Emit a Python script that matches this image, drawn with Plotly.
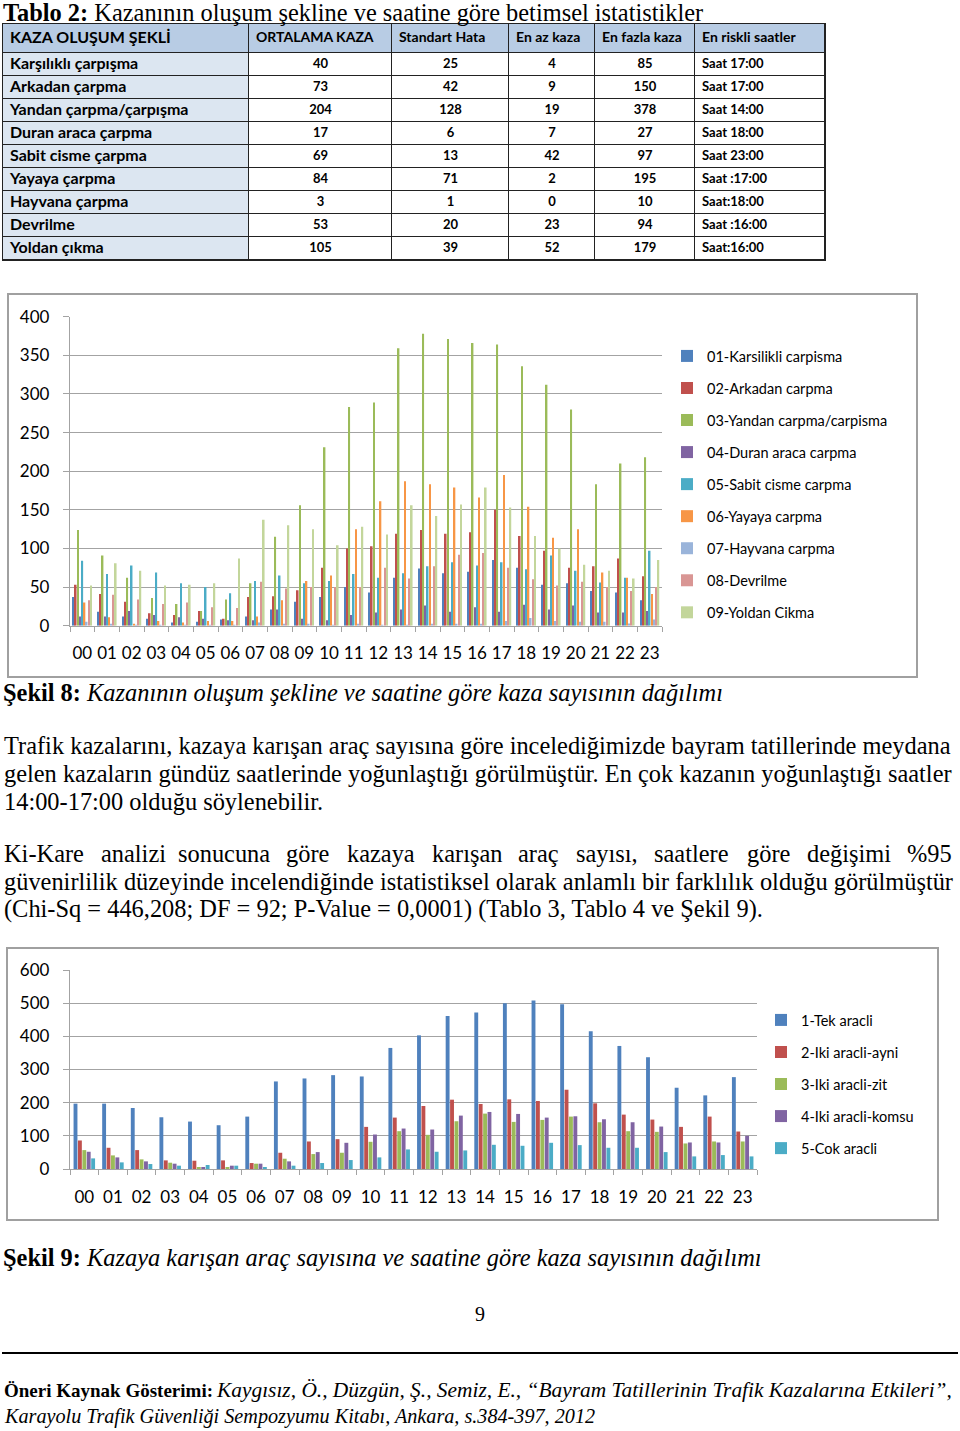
import plotly.graph_objects as go

W, H = 960, 1431

def P(py):
    return 1 - py / H

def X(px):
    return px / W

# ---------------- data ----------------
hours = [f"{h:02d}" for h in range(24)]

# Table 2
tbl_header = ["KAZA OLUŞUM ŞEKLİ", "ORTALAMA KAZA", "Standart Hata", "En az kaza", "En fazla kaza", "En riskli saatler"]
tbl_types = ["Karşılıklı çarpışma", "Arkadan çarpma", "Yandan çarpma/çarpışma", "Duran araca çarpma",
             "Sabit cisme çarpma", "Yayaya çarpma", "Hayvana çarpma", "Devrilme", "Yoldan çıkma"]
tbl_mean = [40, 73, 204, 17, 69, 84, 3, 53, 105]
tbl_se = [25, 42, 128, 6, 13, 71, 1, 20, 39]
tbl_min = [4, 9, 19, 7, 42, 2, 0, 23, 52]
tbl_max = [85, 150, 378, 27, 97, 195, 10, 94, 179]
tbl_risk = ["Saat 17:00", "Saat 17:00", "Saat 14:00", "Saat 18:00", "Saat 23:00", "Saat :17:00",
            "Saat:18:00", "Saat :16:00", "Saat:16:00"]

# Chart 1 (Şekil 8)
c1_names = ["01-Karsilikli carpisma", "02-Arkadan carpma", "03-Yandan carpma/carpisma",
            "04-Duran araca carpma", "05-Sabit cisme carpma", "06-Yayaya carpma",
            "07-Hayvana carpma", "08-Devrilme", "09-Yoldan Cikma"]
karsilikli = [37, 18, 12, 9, 4, 5, 8, 12, 21, 31, 37, 50, 43, 62, 74, 68, 70, 85, 75, 53, 55, 45, 43, 33]
arkadan = [53, 41, 31, 16, 14, 19, 9, 37, 38, 46, 75, 100, 103, 119, 124, 119, 121, 150, 116, 97, 75, 77, 87, 64]
yandan = [124, 91, 62, 36, 28, 19, 34, 55, 115, 156, 231, 283, 289, 359, 378, 371, 366, 364, 336, 312, 280, 183, 210, 218]
duran = [12, 12, 19, 14, 11, 9, 7, 7, 21, 9, 7, 14, 17, 21, 26, 18, 24, 18, 27, 21, 26, 17, 17, 19]
sabit = [84, 67, 78, 69, 55, 50, 42, 58, 65, 55, 58, 67, 62, 68, 77, 82, 78, 82, 73, 91, 71, 56, 62, 97]
yayaya = [30, 11, 2, 6, 4, 6, 6, 12, 33, 58, 65, 125, 161, 187, 183, 179, 166, 195, 154, 114, 125, 69, 62, 41]
hayvana = [5, 2, 1, 1, 1, 1, 1, 4, 2, 2, 1, 2, 1, 1, 2, 2, 2, 6, 10, 6, 5, 5, 3, 8]
devrilme = [33, 40, 34, 28, 30, 24, 23, 57, 48, 50, 50, 50, 75, 61, 77, 92, 94, 75, 60, 52, 57, 50, 45, 50]
yoldan = [52, 81, 71, 52, 53, 55, 87, 137, 130, 125, 104, 128, 118, 156, 142, 157, 179, 153, 116, 100, 79, 71, 61, 85]
c1_series = [karsilikli, arkadan, yandan, duran, sabit, yayaya, hayvana, devrilme, yoldan]
c1_ticks = [0, 50, 100, 150, 200, 250, 300, 350, 400]

# Chart 2 (Şekil 9)
c2_names = ["1-Tek aracli", "2-Iki aracli-ayni", "3-Iki aracli-zit", "4-Iki aracli-komsu", "5-Cok aracli"]
tek = [197, 197, 184, 156, 143, 132, 158, 264, 273, 283, 279, 365, 403, 461, 472, 500, 508, 497, 415, 371, 337, 245, 222, 277]
iki_ayni = [86, 64, 57, 26, 25, 26, 18, 49, 83, 90, 127, 155, 190, 209, 196, 210, 205, 239, 198, 164, 149, 127, 158, 113]
iki_zit = [57, 41, 29, 19, 6, 6, 16, 31, 45, 49, 82, 114, 103, 144, 167, 142, 148, 158, 141, 114, 112, 77, 83, 83]
iki_komsu = [52, 35, 23, 16, 6, 10, 16, 23, 51, 79, 104, 122, 119, 161, 172, 166, 155, 159, 150, 141, 128, 80, 80, 100]
cok = [32, 20, 15, 10, 12, 10, 4, 10, 18, 27, 35, 59, 52, 56, 73, 70, 79, 72, 64, 64, 51, 38, 42, 38]
c2_series = [tek, iki_ayni, iki_zit, iki_komsu, cok]
c2_ticks = [0, 100, 200, 300, 400, 500, 600]

# ---------------- styles ----------------
C1_COLORS = ["#4F81BD", "#C0504D", "#9BBB59", "#8064A2", "#4BACC6", "#F79646", "#9AB4DA", "#D99694", "#C3D69B"]
C2_COLORS = ["#4F81BD", "#C0504D", "#9BBB59", "#8064A2", "#4BACC6"]
SERIF = "Liberation Serif"
SANS = "Lato"
GRID = "#A3A3A3"
BODY = 24.4

fig = go.Figure()

# ---------------- table (heatmap cells + text) ----------------
col_w = [246, 143, 117, 86, 100, 130]
hdr_h, row_h = 29, 23
col_edges = [0]
for w in col_w:
    col_edges.append(col_edges[-1] + w)
n_rows = len(tbl_types)
row_edges = [0, hdr_h] + [hdr_h + row_h * (k + 1) for k in range(n_rows)]
tbl_w, tbl_h = col_edges[-1], row_edges[-1]

# cell fill classes: 2 = header, 1 = row-label column, 0 = plain data cell
z = [[2] * len(col_w)] + [[1] + [0] * (len(col_w) - 1) for _ in range(n_rows)]
fig.add_trace(go.Heatmap(
    x=col_edges, y=row_edges, z=z, zmin=0, zmax=2, xgap=1, ygap=1,
    colorscale=[[0, "white"], [0.25, "white"], [0.25, "#DCE6F1"], [0.75, "#DCE6F1"],
                [0.75, "#B8CCE4"], [1, "#B8CCE4"]],
    showscale=False, hoverinfo="skip", xaxis="x3", yaxis="y3",
))

row_centers = [(row_edges[k + 1] + row_edges[k]) / 2 for k in range(1, n_rows + 1)]
hdr_center = hdr_h / 2
col_left = [col_edges[c] + 7 for c in range(len(col_w))]
col_mid = [(col_edges[c] + col_edges[c + 1]) / 2 for c in range(len(col_w))]

# header texts
fig.add_trace(go.Scatter(
    x=col_left, y=[hdr_center] * len(col_w), mode="text",
    text=[f"<b>{h}</b>" for h in tbl_header], textposition="middle right",
    textfont=dict(family=SANS, size=[16, 14, 14, 14, 14, 14], color="black"),
    showlegend=False, hoverinfo="skip", xaxis="x3", yaxis="y3",
))
# row labels
fig.add_trace(go.Scatter(
    x=[col_left[0]] * n_rows, y=row_centers, mode="text",
    text=[f"<b>{t}</b>" for t in tbl_types], textposition="middle right",
    textfont=dict(family=SANS, size=16, color="black"),
    showlegend=False, hoverinfo="skip", xaxis="x3", yaxis="y3",
))
# numeric columns
for c, vals in zip([1, 2, 3, 4], [tbl_mean, tbl_se, tbl_min, tbl_max]):
    fig.add_trace(go.Scatter(
        x=[col_mid[c]] * n_rows, y=row_centers, mode="text",
        text=[f"<b>{v}</b>" for v in vals], textposition="middle center",
        textfont=dict(family=SANS, size=13, color="black"),
        showlegend=False, hoverinfo="skip", xaxis="x3", yaxis="y3",
    ))
# risk hours
fig.add_trace(go.Scatter(
    x=[col_left[5]] * n_rows, y=row_centers, mode="text",
    text=[f"<b>{v}</b>" for v in tbl_risk], textposition="middle right",
    textfont=dict(family=SANS, size=13, color="black"),
    showlegend=False, hoverinfo="skip", xaxis="x3", yaxis="y3",
))

# ---------------- chart 1 ----------------
n1 = len(c1_series)
grp1 = 0.80
slot1 = grp1 / n1
bw1 = slot1 * 0.72
for i, (name, vals) in enumerate(zip(c1_names, c1_series)):
    fig.add_trace(go.Bar(
        x=hours, y=vals, name=name, marker=dict(color=C1_COLORS[i], line=dict(width=0)),
        width=bw1, offset=-grp1 / 2 + i * slot1 + (slot1 - bw1) / 2,
        xaxis="x", yaxis="y", legend="legend", legendgroup=f"a{i}",
    ))

# ---------------- chart 2 ----------------
n2 = len(c2_series)
grp2 = 0.77
slot2 = grp2 / n2
bw2 = slot2 * 0.88
for i, (name, vals) in enumerate(zip(c2_names, c2_series)):
    fig.add_trace(go.Bar(
        x=hours, y=vals, name=name, marker=dict(color=C2_COLORS[i], line=dict(width=0)),
        width=bw2, offset=-grp2 / 2 + i * slot2 + (slot2 - bw2) / 2,
        xaxis="x2", yaxis="y2", legend="legend2", legendgroup=f"b{i}",
    ))

axis_common = dict(showline=True, linecolor=GRID, linewidth=1.3, mirror=False)
xcommon = dict(type="category", ticks="outside", tickson="boundaries", ticklen=5, tickcolor=GRID,
               tickwidth=1.3, tickfont=dict(family=SANS, size=17, color="black"), showgrid=False,
               tickangle=0, ticklabelstandoff=12, fixedrange=True, **axis_common)
ycommon = dict(ticks="outside", ticklen=6, tickcolor=GRID, tickwidth=1.3, showgrid=True,
               gridcolor=GRID, gridwidth=1.3, zeroline=False,
               tickfont=dict(family=SANS, size=17, color="black"), ticklabelstandoff=10,
               fixedrange=True, **axis_common)
hidden = dict(visible=False, showgrid=False, zeroline=False, fixedrange=True)

legend_font = dict(family=SANS, size=14.5, color="black")
fig.update_layout(
    width=W, height=H, autosize=False,
    margin=dict(l=0, r=0, t=0, b=0, autoexpand=False),
    paper_bgcolor="white", plot_bgcolor="white",
    barmode="group",
    showlegend=True,
    xaxis=dict(domain=[X(70), X(662)], anchor="y", range=[-0.5, 23.5], **xcommon),
    yaxis=dict(domain=[P(625.7), P(316.7)], anchor="x", range=[0, 400], tickvals=c1_ticks, **ycommon),
    xaxis2=dict(domain=[X(70), X(757)], anchor="y2", range=[-0.5, 23.5], **xcommon),
    yaxis2=dict(domain=[P(1169), P(970)], anchor="x2", range=[0, 600], tickvals=c2_ticks, **ycommon),
    xaxis3=dict(domain=[X(2), X(4 + tbl_w)], anchor="y3", range=[-1, tbl_w + 1], **hidden),
    yaxis3=dict(domain=[P(25 + tbl_h), P(23)], anchor="x3", range=[tbl_h + 1, -1], **hidden),
    legend=dict(x=X(667), y=P(340), xanchor="left", yanchor="top", tracegroupgap=10.2,
                font=legend_font, bgcolor="rgba(0,0,0,0)",
                itemclick=False, itemdoubleclick=False),
    legend2=dict(x=X(761), y=P(1004), xanchor="left", yanchor="top", tracegroupgap=10.2,
                 font=legend_font, bgcolor="rgba(0,0,0,0)",
                 itemclick=False, itemdoubleclick=False),
)

# table border background, chart frames and footer rule
shapes = [
    dict(type="rect", xref="x3", yref="y3", x0=-1, x1=tbl_w + 1, y0=-1, y1=tbl_h + 1,
         fillcolor="#222222", line=dict(width=0), layer="below"),
    dict(type="rect", xref="paper", yref="paper", x0=X(8), x1=X(917), y0=P(677), y1=P(294),
         line=dict(color="#A0A0A0", width=2)),
    dict(type="rect", xref="paper", yref="paper", x0=X(7), x1=X(938), y0=P(1220), y1=P(948),
         line=dict(color="#A0A0A0", width=2)),
    dict(type="line", xref="paper", yref="paper", x0=X(2), x1=X(958), y0=P(1353), y1=P(1353),
         line=dict(color="black", width=2)),
]
fig.update_layout(shapes=shapes)

# ---------------- texts ----------------
anns = []

def text(s, px, py, size, family=SERIF, xanchor="left"):
    anns.append(dict(text=s, x=X(px), y=P(py), xref="paper", yref="paper", xanchor=xanchor,
                     yanchor="middle", showarrow=False, borderpad=0,
                     font=dict(family=family, size=size, color="black")))

text("<b>Tablo 2:</b> Kazanının oluşum şekline ve saatine göre betimsel istatistikler", 2, 12, BODY)
text("<b>Şekil 8:</b> <i>Kazanının oluşum şekline ve saatine göre kaza sayısının dağılımı</i>", 2, 692, BODY)

para1 = [
    "Trafik kazalarını, kazaya karışan araç sayısına göre incelediğimizde bayram tatillerinde meydana",
    "gelen kazaların gündüz saatlerinde yoğunlaştığı görülmüştür. En çok kazanın yoğunlaştığı saatler",
    "14:00-17:00 olduğu söylenebilir.",
]
for k, line in enumerate(para1):
    text(line, 3, 745 + 28 * k, BODY)

# justified first line of the second paragraph: one text per word
p2_words = [("Ki-Kare", 3), ("analizi", 100), ("sonucuna", 177), ("göre", 285), ("kazaya", 346),
            ("karışan", 431), ("araç", 517), ("sayısı,", 575), ("saatlere", 653), ("göre", 746),
            ("değişimi", 806), ("%95", 906)]
for w, px in p2_words:
    text(w, px, 853, BODY)
text("güvenirlilik düzeyinde incelendiğinde istatistiksel olarak anlamlı bir farklılık olduğu görülmüştür", 3, 881, BODY)
text("(Chi-Sq = 446,208; DF = 92; P-Value = 0,0001) (Tablo 3, Tablo 4 ve Şekil 9).", 3, 909, BODY)

text("<b>Şekil 9:</b> <i>Kazaya karışan araç sayısına ve saatine göre kaza sayısının dağılımı</i>", 2, 1257, BODY)
text("9", 480, 1314, 20, xanchor="center")
text("<b>Öneri Kaynak Gösterimi:</b>", 3, 1390, 19)
text("<i>Kaygısız, Ö., Düzgün, Ş., Semiz, E., “Bayram Tatillerinin Trafik Kazalarına Etkileri”,</i>", 215, 1390, 21.4)
text("<i>Karayolu Trafik Güvenliği Sempozyumu Kitabı, Ankara, s.384-397, 2012</i>", 3, 1416, 20.2)

fig.update_layout(annotations=anns)

fig.write_html("out.html")
